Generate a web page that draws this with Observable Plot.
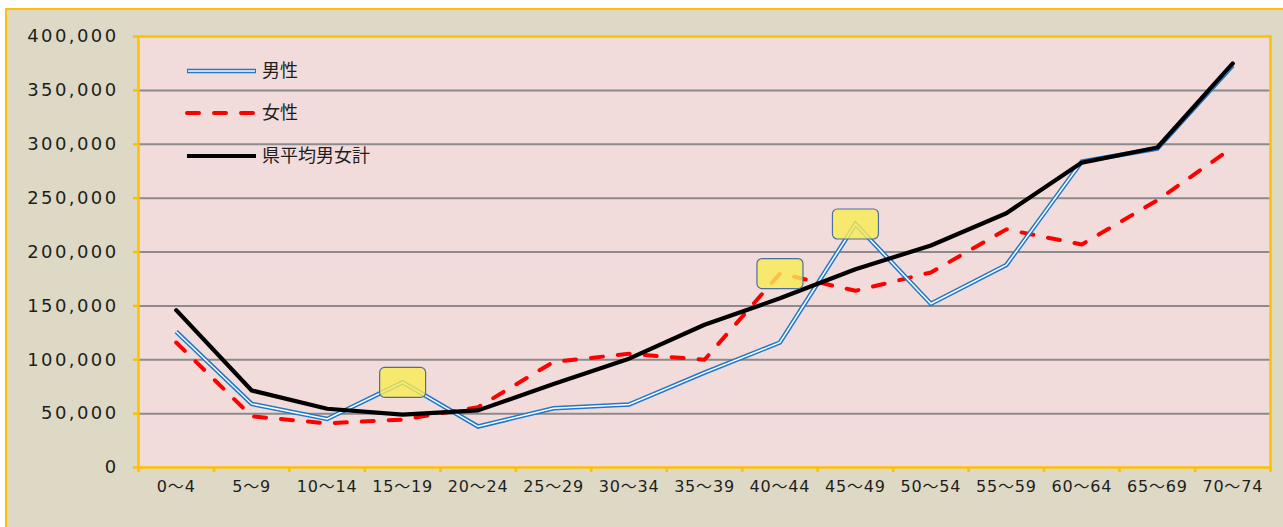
<!DOCTYPE html>
<html>
<head>
<meta charset="utf-8">
<script src="https://cdn.jsdelivr.net/npm/d3@7"></script>
<script src="https://cdn.jsdelivr.net/npm/@observablehq/plot@0.6"></script>
<style>
  html, body { margin: 0; padding: 0; background: #ffffff; width: 1283px; height: 527px; overflow: hidden; }
  #frame { position: absolute; left: 5px; top: 8px; width: 1300px; height: 540px; background: #ddd9c4; border-left: 2px solid #ffc000; border-top: 2px solid #ffc000; }
  #chart { position: absolute; left: 0; top: 0; }
  #legend { position: absolute; left: 0; top: 0; }
  #chart g[aria-label="y-axis tick label"] { letter-spacing: 2.4px; }
  #chart g[aria-label="x-axis tick label"] { letter-spacing: 0.8px; }
</style>
</head>
<body>
<div id="frame"></div>
<div id="chart"></div>
<svg id="legend" width="1283" height="527"></svg>
<script>
const categories = ["0～4","5～9","10～14","15～19","20～24","25～29","30～34","35～39","40～44","45～49","50～54","55～59","60～64","65～69","70～74"];
const male   = [126000, 59000, 45000, 79000, 38000, 55000, 58500, 88000, 116000, 226000, 152000, 188000, 284000, 296000, 373000];
const female = [116000, 47500, 41000, 44500, 56000, 98000, 105500, 100000, 180000, 164000, 181000, 221000, 207000, 248000, 297000];
const total  = [146000, 71500, 54500, 49000, 53000, 77500, 101000, 132500, 157000, 184000, 206000, 236000, 283000, 297000, 375000];
const seriesNames = ["男性", "女性", "県平均男女計"];
const yTicks = [0, 50000, 100000, 150000, 200000, 250000, 300000, 350000, 400000];
const highlights = [
  {category: "15～19", series: "男性"},
  {category: "40～44", series: "女性"},
  {category: "45～49", series: "男性"}
];

const seriesValues = {"男性": male, "女性": female, "県平均男女計": total};
const rows = name => categories.map((c, i) => ({i: i + 0.5, category: c, value: seriesValues[name][i]}));
const hl = highlights.map(h => {
  const i = categories.indexOf(h.category);
  return {i: i + 0.5, value: seriesValues[h.series][i]};
});

const FONT = "'DejaVu Sans', 'Noto Sans CJK JP', sans-serif";
const GOLD = "#ffc000";

const roundBox = {
  draw(context, size) {
    const w = 23, h = 15, r = 5;
    context.moveTo(-w + r, -h);
    context.arcTo(w, -h, w, h, r);
    context.arcTo(w, h, -w, h, r);
    context.arcTo(-w, h, -w, -h, r);
    context.arcTo(-w, -h, w, -h, r);
    context.closePath();
  }
};

const plot = Plot.plot({
  width: 1283,
  height: 527,
  marginLeft: 138,
  marginRight: 13,
  marginTop: 36,
  marginBottom: 60,
  style: {background: "transparent", fontFamily: FONT, color: "#222"},
  x: {type: "linear", domain: [0, categories.length], axis: null},
  y: {domain: [0, 400000], axis: null},
  marks: [
    Plot.frame({fill: "#f2dcdb", stroke: null}),
    Plot.gridY(yTicks.filter(t => t > 0 && t < 400000), {stroke: "#8c8a8a", strokeOpacity: 1, strokeWidth: 2}),
    Plot.axisY(yTicks, {
      tickFormat: d3.format(","), tickSize: 5, tickPadding: 15, stroke: GOLD, strokeWidth: 2.5,
      fontSize: 18, fill: "#1e1e1e", label: null
    }),
    Plot.axisX(d3.range(categories.length + 1), {
      tickFormat: () => "", tickSize: 5, stroke: GOLD, strokeWidth: 2.5, label: null
    }),
    Plot.axisX(categories.map((c, i) => i + 0.5), {
      tickFormat: d => categories[Math.floor(d)], tickSize: 0, tickPadding: 13,
      fontSize: 16, fill: "#1e1e1e", label: null
    }),
    Plot.line(rows("女性"), {x: "i", y: "value", stroke: "#ff0000", strokeWidth: 4, strokeDasharray: "12,15", strokeLinecap: "round"}),
    Plot.line(rows("男性"), {x: "i", y: "value", stroke: "#1f78c8", strokeWidth: 4.5, strokeLinejoin: "miter", strokeMiterlimit: 10, strokeLinecap: "butt"}),
    Plot.line(rows("男性"), {x: "i", y: "value", stroke: "#ffffff", strokeWidth: 1.5, strokeLinejoin: "miter", strokeMiterlimit: 10, strokeLinecap: "butt"}),
    Plot.line(rows("県平均男女計"), {x: "i", y: "value", stroke: "#000000", strokeWidth: 4.2, strokeLinejoin: "round"}),
    Plot.dot(hl, {x: "i", y: "value", symbol: roundBox, r: 10, fill: "#f8ea55", fillOpacity: 0.82, stroke: "#4a6f9e", strokeWidth: 1.2}),
    Plot.frame({stroke: GOLD, strokeWidth: 2.5})
  ]
});
document.getElementById("chart").appendChild(plot);

// legend overlay
const leg = d3.select("#legend");
const legendStyles = [
  {stroke: "#1f78c8", width: 4.5, dash: null, inner: true},
  {stroke: "#ff0000", width: 4, dash: "12,15", inner: false},
  {stroke: "#000000", width: 4.2, dash: null, inner: false}
];
const legendY = [71, 113, 156];
seriesNames.forEach((name, k) => {
  const s = legendStyles[k];
  const g = leg.append("g").attr("transform", `translate(0,${legendY[k]})`);
  g.append("line").attr("x1", 187).attr("x2", 256).attr("y1", 0).attr("y2", 0)
    .attr("stroke", s.stroke).attr("stroke-width", s.width)
    .attr("stroke-dasharray", s.dash).attr("stroke-linecap", s.dash ? "round" : "butt");
  if (s.inner) {
    g.append("line").attr("x1", 188).attr("x2", 255).attr("y1", 0).attr("y2", 0)
      .attr("stroke", "#ffffff").attr("stroke-width", 1.5);
  }
  g.append("text").attr("x", 262).attr("y", 0).attr("dy", "0.35em")
    .attr("font-family", "'Noto Sans CJK JP', sans-serif").attr("font-size", 18).attr("fill", "#1e1e1e").text(name);
});
</script>
</body>
</html>
